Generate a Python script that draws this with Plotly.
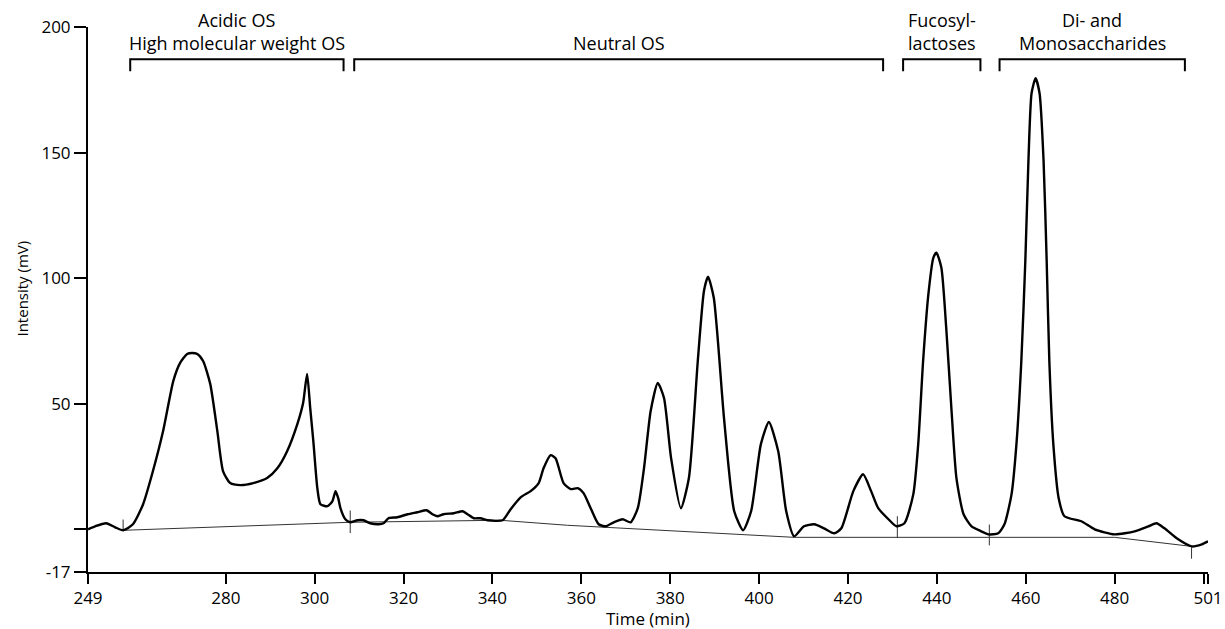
import plotly.graph_objects as go

# ---- data ----
time_min = [249.0, 250.6, 253.1, 255.1, 256.9, 259.1, 261.4, 263.6, 265.9, 268.2,
            269.7, 271.3, 272.4, 273.6, 274.9, 276.5, 278.1, 279.4, 281.0, 283.3,
            286.2, 289.3, 291.6, 293.8, 296.1, 297.4, 298.3, 299.0, 299.7, 300.6,
            301.3, 302.9, 304.0, 304.7, 305.3, 305.8, 306.9, 308.0, 309.6, 311.0,
            312.5, 314.4, 315.5, 316.6, 318.6, 320.9, 323.1, 325.2, 326.5, 327.6,
            329.0, 331.3, 333.3, 334.4, 335.8, 337.3, 338.9, 342.3, 344.1, 346.4,
            348.6, 350.4, 351.5, 353.1, 354.2, 356.0, 357.6, 359.2, 360.5, 362.1,
            363.9, 365.5, 367.3, 369.3, 371.1, 372.7, 374.1, 375.6, 377.2, 378.6,
            380.2, 382.4, 384.2, 386.2, 387.6, 388.5, 389.8, 392.1, 394.4, 396.4,
            398.2, 400.4, 402.2, 404.3, 406.1, 407.9, 410.1, 412.4, 414.6, 416.9,
            418.5, 421.2, 423.4, 425.2, 426.8, 429.1, 430.9, 432.7, 434.7, 435.8,
            436.9, 438.1, 439.2, 439.9, 441.0, 442.1, 443.3, 444.4, 446.0, 447.8,
            450.0, 451.6, 453.8, 455.2, 456.8, 457.9, 459.0, 459.9, 460.6, 461.3,
            462.2, 463.1, 464.0, 464.7, 465.3, 466.2, 467.4, 468.7, 472.5, 475.5,
            480.0, 484.5, 487.6, 489.4, 491.2, 494.3, 497.3, 499.6, 501.0]
intensity_mv = [0.0, 1.2, 2.4, 0.8, -0.4, 2.0, 10.0, 23.1, 39.1, 59.1,
                66.2, 69.8, 70.2, 69.8, 67.0, 57.9, 39.1, 23.1, 18.4, 17.6,
                18.4, 20.4, 24.3, 31.1, 41.9, 50.3, 61.9, 48.3, 35.1, 16.4,
                10.0, 9.2, 11.2, 15.2, 12.4, 8.4, 4.0, 2.8, 3.6, 3.6,
                2.4, 2.0, 2.4, 4.4, 4.8, 6.0, 6.8, 7.6, 6.0, 5.2,
                6.0, 6.4, 7.2, 6.0, 4.4, 4.4, 3.6, 3.6, 8.0, 12.8,
                15.2, 18.4, 24.3, 29.5, 28.3, 18.4, 16.0, 16.4, 14.4, 8.4,
                2.0, 1.2, 2.8, 4.0, 2.8, 8.4, 24.3, 47.1, 58.3, 52.3,
                28.3, 8.4, 20.4, 67.0, 95.0, 100.6, 92.2, 44.3, 7.2, -0.4,
                7.2, 33.9, 42.7, 31.1, 7.2, -2.8, 1.2, 2.0, 0.4, -1.6,
                0.4, 15.2, 21.9, 15.2, 8.4, 4.0, 1.2, 2.4, 14.0, 33.9,
                67.0, 93.8, 108.1, 110.1, 104.2, 80.2, 47.1, 20.4, 6.0, 1.2,
                -0.8, -2.0, -1.6, 2.0, 14.0, 33.9, 67.0, 106.9, 146.8, 173.6,
                179.6, 173.6, 146.8, 106.9, 67.0, 33.9, 12.4, 5.2, 3.2, 0.0,
                -2.0, -0.8, 1.2, 2.4, 0.4, -4.0, -6.8, -6.0, -4.8]

baseline_time = [256.9, 308.0, 341.8, 356.9, 407.9, 480.0, 497.3]
baseline_mv = [-0.4, 2.8, 3.6, 1.6, -3.2, -3.2, -6.8]

mark_time = [256.9, 308.0, 431.1, 451.8, 497.3]
mark_low = [-0.5, -1.5, -3.5, -6.4, -11.7]
mark_high = [3.9, 7.5, 5.2, 1.9, -7.2]

group_upper = ["Acidic OS", "", "Fucosyl-", "Di- and"]
group_lower = ["High molecular weight OS", "Neutral OS", "lactoses", "Monosaccharides"]
group_start = [258.5, 308.9, 432.4, 454.1]
group_end = [306.5, 427.9, 449.8, 495.8]

x_tickvals = [249, 280, 300, 320, 340, 360, 380, 400, 420, 440, 460, 480, 500, 501]
x_ticktext = ["249", "280", "300", "320", "340", "360", "380", "400", "420", "440",
              "460", "480", "", "501"]
y_tickvals = [-17, 0, 50, 100, 150, 200]
y_ticktext = ["-17", "", "50", "100", "150", "200"]

FONT = "Open Sans"
FS = 17

fig = go.Figure()

fig.add_trace(go.Scatter(x=baseline_time, y=baseline_mv, mode="lines",
                         line=dict(color="#333333", width=1), hoverinfo="skip",
                         showlegend=False))

mx, my = [], []
for t, lo, hi in zip(mark_time, mark_low, mark_high):
    mx += [t, t, None]
    my += [lo, hi, None]
fig.add_trace(go.Scatter(x=mx, y=my, mode="lines",
                         line=dict(color="#333333", width=1), hoverinfo="skip",
                         showlegend=False))

fig.add_trace(go.Scatter(x=time_min, y=intensity_mv, mode="lines",
                         line=dict(color="black", width=2.4, shape="spline", smoothing=0.6),
                         showlegend=False))

BR_TOP, BR_BOT = 187.2, 182.4
for up, low, s, e in zip(group_upper, group_lower, group_start, group_end):
    fig.add_shape(type="path", xref="x", yref="y",
                  path=f"M {s},{BR_BOT} L {s},{BR_TOP} L {e},{BR_TOP} L {e},{BR_BOT}",
                  line=dict(color="black", width=2))
    c = (s + e) / 2
    if up:
        fig.add_annotation(x=c, y=1.0128, xref="x", yref="paper", text=up, showarrow=False,
                           font=dict(family=FONT, size=18, color="black"),
                           xanchor="center", yanchor="middle")
    fig.add_annotation(x=c, y=0.9706, xref="x", yref="paper", text=low, showarrow=False,
                       font=dict(family=FONT, size=18, color="black"),
                       xanchor="center", yanchor="middle")

fig.add_annotation(x=-0.0589, y=0.5202, xref="paper", yref="paper", text="Intensity (mV)",
                   textangle=-90, showarrow=False, xanchor="center", yanchor="middle",
                   font=dict(family=FONT, size=15, color="black"))
fig.add_annotation(x=0.5, y=-0.0862, xref="paper", yref="paper", text="Time (min)",
                   showarrow=False, xanchor="center", yanchor="middle",
                   font=dict(family=FONT, size=FS, color="black"))

fig.update_layout(
    template="none",
    width=1225, height=629,
    margin=dict(l=88, r=17, t=27, b=57, autoexpand=False),
    paper_bgcolor="white", plot_bgcolor="white",
    font=dict(family=FONT, size=FS, color="black"),
    showlegend=False,
    xaxis=dict(range=[249, 501], tickvals=x_tickvals, ticktext=x_ticktext,
               showgrid=False, zeroline=False, showline=True, linecolor="black",
               linewidth=2, ticks="outside", ticklen=10, tickwidth=1.5,
               tickcolor="black", tickfont=dict(family=FONT, size=FS),
               automargin=False),
    yaxis=dict(range=[-17, 200], tickvals=y_tickvals, ticktext=y_ticktext,
               showgrid=False, zeroline=False, showline=True, linecolor="black",
               linewidth=2, ticks="outside", ticklen=12, tickwidth=1.5,
               tickcolor="black", tickfont=dict(family=FONT, size=FS),
               automargin=False),
)

fig.write_html("out.html", config={"displayModeBar": False},
               post_script="document.body.style.margin='0px';document.body.style.overflow='hidden';")
